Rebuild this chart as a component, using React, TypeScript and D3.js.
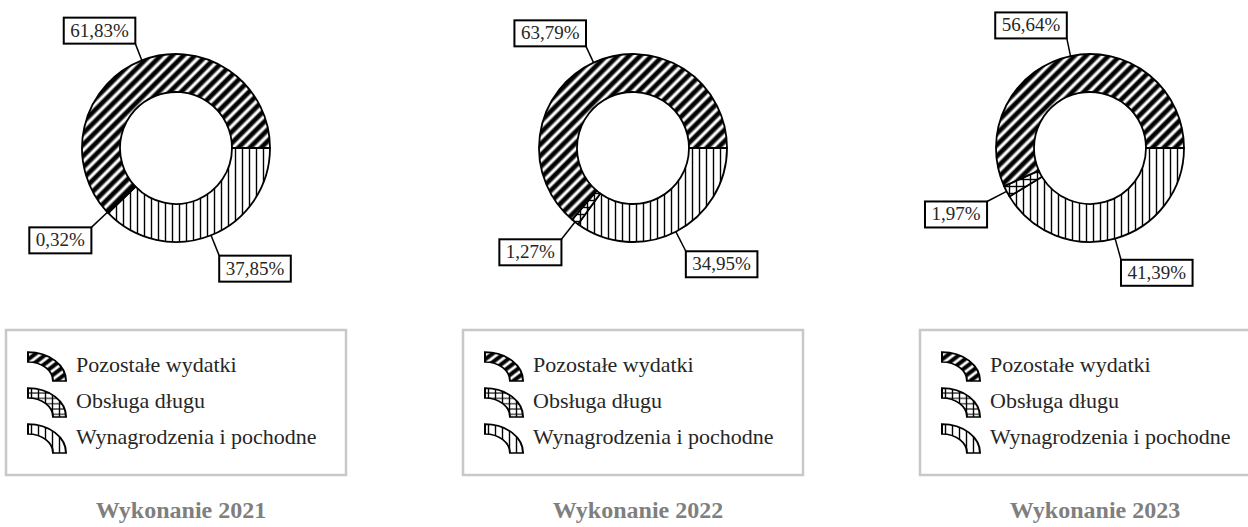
import * as d3 from 'd3'
import React, { useEffect, useRef } from 'react'

// categories in legend order (top to bottom)
const categories = ['Pozostałe wydatki', 'Obsługa długu', 'Wynagrodzenia i pochodne']
const titles = ['Wykonanie 2021', 'Wykonanie 2022', 'Wykonanie 2023']

// shares in % per year
const pozostale = [61.83, 63.79, 56.64]
const obslugaDlugu = [0.32, 1.27, 1.97]
const wynagrodzenia = [37.85, 34.95, 41.39]

const patternIds = ['pat-stripes', 'pat-grid', 'pat-vert']

const App = (): JSX.Element => {
    const ref = useRef<SVGSVGElement>(null)
    const width = 1248
    const height = 527
    const panelStep = 457
    const panelLeft = 6
    const legendWidth = 340
    const rOuter = 94
    const rInner = 56
    const cy = 148
    const font = '"Liberation Serif", "Times New Roman", serif'

    function formatPct(v: number) {
        return `${v.toFixed(2).replace('.', ',')}%`
    }

    useEffect(() => {
        const svg = d3.select(ref.current)
        svg.selectAll('*').remove()

        // patterns
        const defs = svg.append('defs')
        const grad = defs
            .append('linearGradient')
            .attr('id', 'stripe-grad')
            .attr('x1', 0)
            .attr('x2', 1)
            .attr('y1', 0)
            .attr('y2', 0)
        ;[
            [0, '#fff'],
            [0.08, '#fff'],
            [0.32, '#000'],
            [0.66, '#000'],
            [0.92, '#fff'],
            [1, '#fff'],
        ].forEach(([o, c]) => grad.append('stop').attr('offset', o).attr('stop-color', c))

        const stripes = defs
            .append('pattern')
            .attr('id', 'pat-stripes')
            .attr('patternUnits', 'userSpaceOnUse')
            .attr('width', 8)
            .attr('height', 8)
            .attr('patternTransform', 'rotate(45)')
        stripes
            .append('rect')
            .attr('width', 8)
            .attr('height', 8)
            .attr('fill', 'url(#stripe-grad)')

        const vert = defs
            .append('pattern')
            .attr('id', 'pat-vert')
            .attr('patternUnits', 'userSpaceOnUse')
            .attr('width', 7)
            .attr('height', 7)
        vert.append('rect').attr('width', 7).attr('height', 7).attr('fill', '#fff')
        vert.append('line')
            .attr('x1', 3.5)
            .attr('x2', 3.5)
            .attr('y1', 0)
            .attr('y2', 7)
            .attr('stroke', '#000')
            .attr('stroke-width', 1.4)

        const grid = defs
            .append('pattern')
            .attr('id', 'pat-grid')
            .attr('patternUnits', 'userSpaceOnUse')
            .attr('width', 7)
            .attr('height', 7)
        grid.append('rect').attr('width', 7).attr('height', 7).attr('fill', '#fff')
        grid.append('line')
            .attr('x1', 3.5)
            .attr('x2', 3.5)
            .attr('y1', 0)
            .attr('y2', 7)
            .attr('stroke', '#000')
            .attr('stroke-width', 1.4)
        grid.append('line')
            .attr('x1', 0)
            .attr('x2', 7)
            .attr('y1', 3.5)
            .attr('y2', 3.5)
            .attr('stroke', '#000')
            .attr('stroke-width', 1.4)

        // pie: clockwise from 3 o'clock -> wynagrodzenia, obsluga, pozostale
        const pie = d3
            .pie<any>()
            .sort(null)
            .value((d) => d.value)
            .startAngle(Math.PI / 2)
            .endAngle(Math.PI / 2 + 2 * Math.PI)

        const arc = d3.arc<any>().innerRadius(rInner).outerRadius(rOuter)

        titles.forEach((title, i) => {
            const px = panelLeft + i * panelStep
            const cx = px + legendWidth / 2
            const g = svg.append('g').attr('transform', `translate(${cx},${cy})`)

            const data = [
                { name: categories[2], value: wynagrodzenia[i], pat: patternIds[2] },
                { name: categories[1], value: obslugaDlugu[i], pat: patternIds[1] },
                { name: categories[0], value: pozostale[i], pat: patternIds[0] },
            ]
            const arcs = pie(data)

            g.selectAll('path.slice')
                .data(arcs)
                .enter()
                .append('path')
                .attr('class', 'slice')
                .attr('d', arc)
                .attr('fill', (d) => `url(#${d.data.pat})`)
                .attr('stroke', '#000')
                .attr('stroke-width', 1.8)
                .attr('stroke-linejoin', 'round')

            // data labels with leader lines
            arcs.forEach((d) => {
                const a = (d.startAngle + d.endAngle) / 2
                const sx = Math.sin(a)
                const sy = -Math.cos(a)
                const lead = sy > 0 ? 22 : 18
                const x0 = sx * rOuter
                const y0 = sy * rOuter
                const x1 = sx * (rOuter + lead)
                const y1 = sy * (rOuter + lead)
                g.append('line')
                    .attr('x1', x0)
                    .attr('y1', y0)
                    .attr('x2', x1)
                    .attr('y2', y1)
                    .attr('stroke', '#000')
                    .attr('stroke-width', 1.5)

                const lg = g.append('g')
                const rect = lg.append('rect')
                const txt = lg
                    .append('text')
                    .text(formatPct(d.data.value))
                    .attr('font-family', font)
                    .attr('font-size', 19)
                    .attr('fill', '#262626')
                const tw = (txt.node() as SVGTextElement).getComputedTextLength()
                const bw = tw + 13
                const bh = 26
                const bx = sx < 0 ? x1 - bw : x1
                const by = sy < 0 ? y1 - bh : y1
                rect.attr('x', bx)
                    .attr('y', by)
                    .attr('width', bw)
                    .attr('height', bh)
                    .attr('fill', '#fff')
                    .attr('stroke', '#000')
                    .attr('stroke-width', 2)
                txt.attr('x', bx + 6.5).attr('y', by + 19)
            })

            // legend
            const lgTop = 330
            svg.append('rect')
                .attr('x', px)
                .attr('y', lgTop)
                .attr('width', legendWidth)
                .attr('height', 145)
                .attr('fill', '#fff')
                .attr('stroke', '#c8c8c8')
                .attr('stroke-width', 2.5)

            const iconArc = d3
                .arc<any>()
                .innerRadius(25)
                .outerRadius(38)
                .startAngle(0)
                .endAngle(Math.PI / 2)

            categories.forEach((cat, k) => {
                const base = lgTop + 42 + k * 36
                svg.append('path')
                    .attr('d', iconArc({}))
                    .attr('transform', `translate(${px + 22},${base + 9}) scale(1,0.76)`)
                    .attr('fill', `url(#${patternIds[k]})`)
                    .attr('stroke', '#000')
                    .attr('stroke-width', 2)
                svg.append('text')
                    .attr('x', px + 70)
                    .attr('y', base)
                    .attr('font-family', font)
                    .attr('font-size', 22)
                    .attr('fill', '#262626')
                    .text(cat)
            })

            // title
            svg.append('text')
                .attr('x', cx + 5)
                .attr('y', 518)
                .attr('text-anchor', 'middle')
                .attr('font-family', font)
                .attr('font-size', 24)
                .attr('font-weight', 'bold')
                .attr('fill', '#7f7f7f')
                .text(title)
        })
    }, [])

    return (
        <svg
            ref={ref}
            width={width}
            height={height}
            style={{ position: 'absolute', left: 0, top: 0, background: '#fff' }}
        />
    )
}

export default App
